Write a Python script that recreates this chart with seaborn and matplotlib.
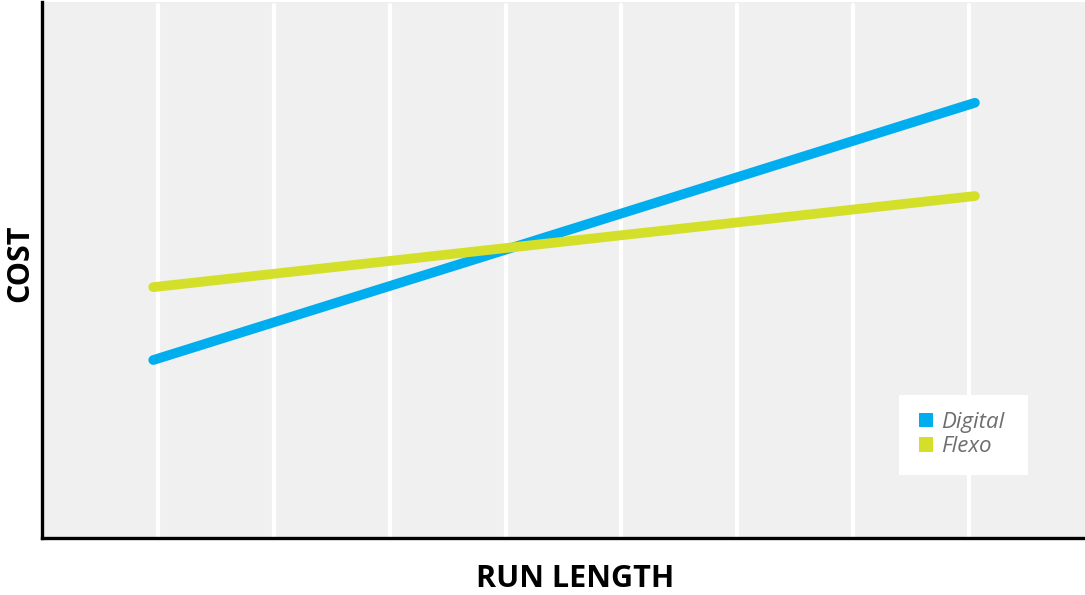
import matplotlib
matplotlib.use("Agg")
import matplotlib.pyplot as plt
import seaborn as sns
import pandas as pd
from matplotlib.patches import Patch, Rectangle

# Cost vs. run length for the two print processes
run_length = [0.96, 8.05]
digital_cost = [3.32, 8.12]
flexo_cost = [4.68, 6.38]
series_names = ["Digital", "Flexo"]
gridline_positions = [1, 2, 3, 4, 5, 6, 7, 8]

colors = {"Digital": "#00adef", "Flexo": "#d4df29"}

df = pd.concat([
    pd.DataFrame({"run": run_length, "cost": digital_cost, "process": "Digital"}),
    pd.DataFrame({"run": run_length, "cost": flexo_cost, "process": "Flexo"}),
])

sns.set_theme(style="white")
plt.rcParams["font.family"] = ["Open Sans", "DejaVu Sans"]

fig = plt.figure(figsize=(10.85, 5.95), dpi=100)
ax = fig.add_axes([42 / 1085, 57 / 595, 1 - 42 / 1085, 536 / 595])
ax.set_facecolor("#eff0ef")

for gx in gridline_positions:
    ax.axvline(gx, ymin=0, ymax=0.995, color="white", lw=3, zorder=1)

sns.lineplot(data=df, x="run", y="cost", hue="process", palette=colors,
             hue_order=series_names, lw=7, ax=ax, legend=False, zorder=3,
             solid_capstyle="round")

ax.set_xlim(0, 9)
ax.set_ylim(0, 10)
ax.set_xticks([])
ax.set_yticks([])

for side in ["top", "right"]:
    ax.spines[side].set_visible(False)
for side in ["left", "bottom"]:
    ax.spines[side].set_color("black")
    ax.spines[side].set_linewidth(2.4)

ax.set_xlabel("RUN LENGTH", fontsize=22, fontweight="bold", color="black", labelpad=19)
ax.set_ylabel("COST", fontsize=22, fontweight="bold", color="black", labelpad=5)
ax.xaxis.label.set_x(0.511)
ax.yaxis.label.set_y(0.513)

# white panel behind the legend
ax.add_patch(Rectangle((857 / 1043, 63 / 536), 129 / 1043, 80 / 536,
                       transform=ax.transAxes, facecolor="white", edgecolor="none", zorder=4))

handles = [Patch(facecolor=colors[n], edgecolor="none", label=n) for n in series_names]
leg = ax.legend(handles=handles, loc="center left",
                bbox_to_anchor=(877 / 1043, 103.5 / 536),
                borderaxespad=0, borderpad=0, frameon=False,
                handlelength=0.63, handleheight=0.63, handletextpad=0.38,
                labelspacing=0.15, prop={"style": "italic", "size": 16})
leg.set_zorder(5)
for t in leg.get_texts():
    t.set_color("#6d6e70")

fig.savefig("out.png", dpi=100)
